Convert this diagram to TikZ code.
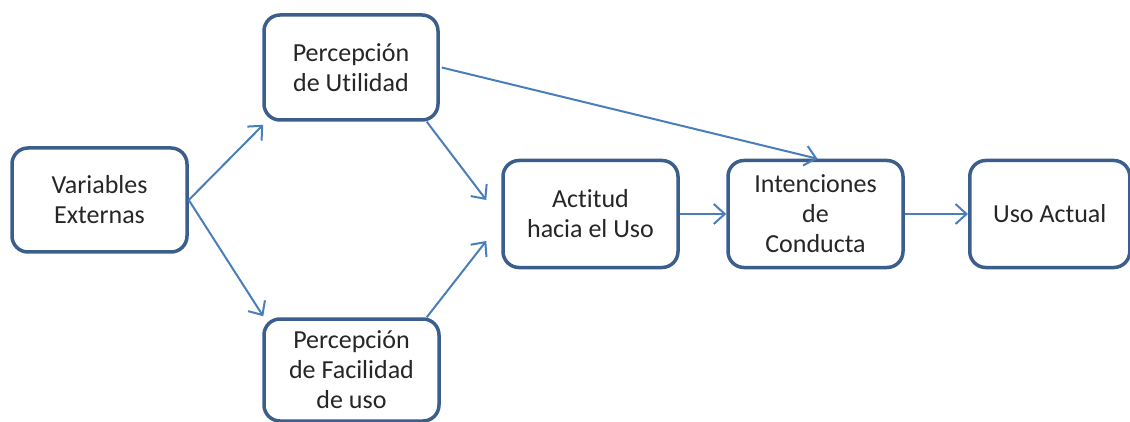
\documentclass[tikz,border=0pt]{standalone}
\usepackage{fontspec}
\setmainfont[Ligatures=NoCommon]{Carlito}
\usetikzlibrary{arrows.meta,calc}
\definecolor{boxline}{HTML}{3B5E8C}
\definecolor{arrowc}{HTML}{4A7EBB}
\tikzset{
  box/.style={draw=boxline, line width=3.5pt, rounded corners=16pt, fill=white,
    align=center, inner sep=0pt, text=black!85,
    font=\fontsize{26}{30}\selectfont},
  conn/.style={draw=arrowc, line width=2pt,
    -{Straight Barb[length=11pt,width=20pt,line width=2pt]}}
}
\begin{document}
\begin{tikzpicture}[x=1pt,y=-1pt]
\clip (0,0) rectangle (1130,422);
\fill[white] (0,0) rectangle (1130,422);
\node[box, minimum width=175pt, minimum height=104pt] (ve) at (99.5,200) {Variables\\Externas};
\node[box, minimum width=174pt, minimum height=105pt] (pu) at (351,67.5) {Percepción\\de Utilidad};
\node[box, minimum width=175pt, minimum height=102pt] (pf) at (351.5,370) {Percepción\\de Facilidad\\de uso};
\node[box, minimum width=175pt, minimum height=107pt] (act) at (590.5,214) {Actitud\\hacia el Uso};
\node[box, minimum width=175pt, minimum height=107pt] (int) at (815.5,214) {Intenciones\\de\\Conducta};
\node[box, minimum width=160pt, minimum height=107pt, anchor=west] (uso) at (968,214) {Uso Actual};
\draw[conn] ($(ve.east)+(0,0)$) -- ($(pu.south west)+(1,3)$);
\draw[conn] (ve.east) -- ($(pf.north west)+(1,-1)$);
\draw[conn] ($(pu.south east)+(-13,0)$) -- ($(act.west)+(-15,-14)$);
\draw[conn] ($(pf.north east)+(-14,0)$) -- ($(act.west)+(-15,27)$);
\draw[conn] ($(pu.east)+(2,0)$) -- ($(int.north)+(2,0)$);
\draw[conn] (act.east) -- (int.west);
\draw[conn] (int.east) -- (uso.west);
\end{tikzpicture}
\end{document}
